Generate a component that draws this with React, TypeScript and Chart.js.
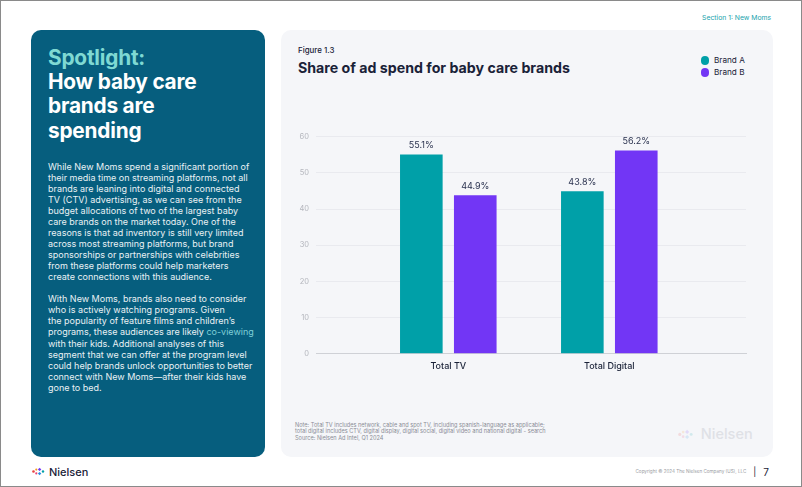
import React, { useEffect, useRef } from "react";
import { Chart, registerables } from "chart.js";

Chart.register(...registerables);

const categories = ["Total TV", "Total Digital"];
const seriesNames = ["Brand A", "Brand B"];
const brandAValues = [55.1, 44.9];
const brandBValues = [43.8, 56.2];
const brandALabels = ["55.1%", "43.8%"];
const brandBLabels = ["44.9%", "56.2%"];
const yTicks = [0, 10, 20, 30, 40, 50, 60];

const TEAL = "#00a0a8";
const PURPLE = "#7236f5";
const NAVY = "#1a2238";
const FONT = "Inter, 'Noto Sans', sans-serif";

const para1 = [
  "While New Moms spend a significant portion of",
  "their media time on streaming platforms, not all",
  "brands are leaning into digital and connected",
  "TV (CTV) advertising, as we can see from the",
  "budget allocations of two of the largest baby",
  "care brands on the market today. One of the",
  "reasons is that ad inventory is still very limited",
  "across most streaming platforms, but brand",
  "sponsorships or partnerships with celebrities",
  "from these platforms could help marketers",
  "create connections with this audience.",
];
const para2 = [
  "With New Moms, brands also need to consider",
  "who is actively watching programs. Given",
  "the popularity of feature films and children\u2019s",
  "programs, these audiences are likely ##co-viewing",
  "with their kids. Additional analyses of this",
  "segment that we can offer at the program level",
  "could help brands unlock opportunities to better",
  "connect with New Moms\u2014after their kids have",
  "gone to bed.",
];
const noteLines = [
  "Note: Total TV includes network, cable and spot TV, including spanish-language as applicable;",
  "total digital includes CTV, digital display, digital social, digital video and national digital - search",
  "Source: Nielsen Ad Intel, Q1 2024",
];

const valueLabelPlugin = {
  id: "valueLabels",
  afterDatasetsDraw(chart: any) {
    const ctx = chart.ctx;
    const all = [brandALabels, brandBLabels];
    ctx.save();
    ctx.font = `400 9px ${FONT}`;
    ctx.fillStyle = "#2b3350";
    ctx.textAlign = "center";
    ctx.textBaseline = "middle";
    chart.data.datasets.forEach((ds: any, di: number) => {
      const meta = chart.getDatasetMeta(di);
      meta.data.forEach((el: any, i: number) => {
        ctx.fillText(all[di][i], el.x, el.y - 9);
      });
    });
    ctx.restore();
  },
};

function NielsenIcon({ opacity = 1, scale = 1 }: { opacity?: number; scale?: number }) {
  return (
    <svg width={14 * scale} height={9 * scale} viewBox="0 0 14 9" style={{ opacity, display: "block" }}>
      <circle cx="1.5" cy="4.5" r="1.3" fill="#e8423f" />
      <circle cx="4.3" cy="2.6" r="1.1" fill="#f59a23" />
      <circle cx="4.3" cy="6.4" r="1.1" fill="#e8427a" />
      <rect x="6.4" y="1.2" width="2.4" height="2.4" fill="#7236f5" transform="rotate(45 7.6 2.4)" />
      <rect x="6.4" y="5.4" width="2.4" height="2.4" fill="#2a8fe0" transform="rotate(45 7.6 6.6)" />
      <circle cx="11" cy="4.5" r="1.2" fill="#00a0a8" />
    </svg>
  );
}

export default function App() {
  const canvasRef = useRef<HTMLCanvasElement | null>(null);

  useEffect(() => {
    if (!canvasRef.current) return;
    const chart = new Chart(canvasRef.current, {
      type: "bar",
      data: {
        datasets: [
          {
            label: seriesNames[0],
            data: categories.map((_, i) => ({ x: i, y: brandAValues[i] })),
            backgroundColor: TEAL,
            categoryPercentage: 0.67,
            barPercentage: 0.79,
          },
          {
            label: seriesNames[1],
            data: categories.map((_, i) => ({ x: i, y: brandBValues[i] })),
            backgroundColor: PURPLE,
            categoryPercentage: 0.67,
            barPercentage: 0.79,
          },
        ],
      },
      options: {
        animation: false,
        responsive: false,
        maintainAspectRatio: false,
        layout: { padding: { top: 15.7, right: 15, left: 0, bottom: 0 } },
        plugins: { legend: { display: false }, tooltip: { enabled: false } },
        scales: {
          x: {
            type: "linear",
            offset: false,
            min: -0.8217,
            max: 1.849,
            grid: { display: false, drawTicks: false, offset: false },
            border: { display: true, color: "#cfd1d6", width: 1 },
            afterBuildTicks: (axis: any) => {
              axis.ticks = categories.map((_, i) => ({ value: i }));
            },
            afterFit: (axis: any) => {
              axis.height = 29.3;
            },
            ticks: {
              padding: 7.5,
              color: NAVY,
              font: { family: FONT, size: 9, weight: "500" },
              callback: (v: any) => categories[Math.round(Number(v))] ?? "",
            },
          },
          y: {
            min: yTicks[0],
            max: yTicks[yTicks.length - 1],
            afterBuildTicks: (axis: any) => {
              axis.ticks = yTicks.map((v) => ({ value: v }));
            },
            afterFit: (axis: any) => {
              axis.width = 35;
            },
            grid: { color: "#e9eaef", drawTicks: false, lineWidth: 1 },
            border: { display: false },
            ticks: {
              padding: 7,
              color: "#b4b6bd",
              font: { family: FONT, size: 7.5 },
            },
          },
        },
      },
      plugins: [valueLabelPlugin],
    } as any);
    return () => chart.destroy();
  }, []);

  const abs = (s: React.CSSProperties): React.CSSProperties => ({ position: "absolute", ...s });

  return (
    <div
      style={{
        position: "fixed",
        left: 0,
        top: 0,
        width: 802,
        height: 487,
        boxSizing: "border-box",
        border: "1px solid #8a8a8a",
        background: "#ffffff",
        fontFamily: FONT,
        overflow: "hidden",
      }}
    >
      <div style={abs({ right: 30, top: 10.5, fontSize: 6.8, color: "#1aa3ad", lineHeight: "11px" })}>
        Section 1: New Moms
      </div>

      {/* Left panel */}
      <div style={abs({ left: 30, top: 29, width: 234, height: 427, background: "#065e7e", borderRadius: 10 })} />
      <div
        style={abs({
          left: 47,
          top: 45,
          fontSize: 20.8,
          fontWeight: 700,
          lineHeight: "24.2px",
          color: "#ffffff",
          letterSpacing: "-0.2px",
        })}
      >
        <div style={{ color: "#7fd9d3" }}>Spotlight:</div>
        <div>How baby care</div>
        <div>brands are</div>
        <div>spending</div>
      </div>
      <div
        style={abs({
          left: 47,
          top: 159.5,
          fontSize: 9,
          lineHeight: "11.07px",
          color: "#e9f1f4",
          whiteSpace: "pre",
        })}
      >
        {para1.map((l, i) => (
          <div key={"a" + i}>{l}</div>
        ))}
        <div>{"\u00a0"}</div>
        {para2.map((l, i) => {
          if (l.includes("##")) {
            const [a, b] = l.split("##");
            return (
              <div key={"b" + i}>
                {a}
                <span style={{ color: "#7fcfd8" }}>{b}</span>
              </div>
            );
          }
          return <div key={"b" + i}>{l}</div>;
        })}
      </div>

      {/* Chart panel */}
      <div style={abs({ left: 280, top: 29, width: 492, height: 427, background: "#f5f6f9", borderRadius: 10 })} />
      <div style={abs({ left: 297, top: 43.8, fontSize: 7.9, fontWeight: 500, color: NAVY, lineHeight: "11px" })}>
        Figure 1.3
      </div>
      <div
        style={abs({ left: 297, top: 56.5, fontSize: 14.2, fontWeight: 700, color: NAVY, lineHeight: "19px" })}
      >
        Share of ad spend for baby care brands
      </div>
      {seriesNames.map((n, i) => (
        <div key={n} style={abs({ left: 699.5, top: 53.8 + i * 12.4, display: "flex", alignItems: "center" })}>
          <div
            style={{
              width: 8.5,
              height: 8.5,
              borderRadius: "50%",
              background: i === 0 ? TEAL : PURPLE,
              marginRight: 5,
            }}
          />
          <div style={{ fontSize: 8.2, color: NAVY, lineHeight: "11px" }}>{n}</div>
        </div>
      ))}

      <canvas
        ref={canvasRef}
        width={480}
        height={262}
        style={abs({ left: 280, top: 120, width: 480, height: 262 })}
      />

      <div style={abs({ left: 294, top: 420.8, fontSize: 5.6, lineHeight: "6.4px", color: "#8a8d96", whiteSpace: "pre" })}>
        {noteLines.map((l, i) => (
          <div key={i}>{l}</div>
        ))}
      </div>
      <div style={abs({ left: 677, top: 424, display: "flex", alignItems: "center" })}>
        <div style={{ marginRight: 6 }}>
          <NielsenIcon opacity={0.14} scale={1.2} />
        </div>
        <div style={{ fontSize: 14.5, color: "#dfe1e6", lineHeight: "18px", fontWeight: 500 }}>Nielsen</div>
      </div>

      {/* Footer */}
      <div style={abs({ left: 31, top: 463.5, display: "flex", alignItems: "center" })}>
        <div style={{ marginRight: 3 }}>
          <NielsenIcon />
        </div>
        <div style={{ fontSize: 11, color: NAVY, lineHeight: "14px", fontWeight: 500 }}>Nielsen</div>
      </div>
      <div style={abs({ right: 32, top: 464, display: "flex", alignItems: "center" })}>
        <div style={{ fontSize: 4.6, color: "#9a9ca3", lineHeight: "14px" }}>
          Copyright © 2024 The Nielsen Company (US), LLC
        </div>
        <div style={{ fontSize: 9, color: NAVY, lineHeight: "14px", marginLeft: 7 }}>|</div>
        <div style={{ fontSize: 10, color: NAVY, lineHeight: "14px", marginLeft: 7 }}>7</div>
      </div>
    </div>
  );
}
